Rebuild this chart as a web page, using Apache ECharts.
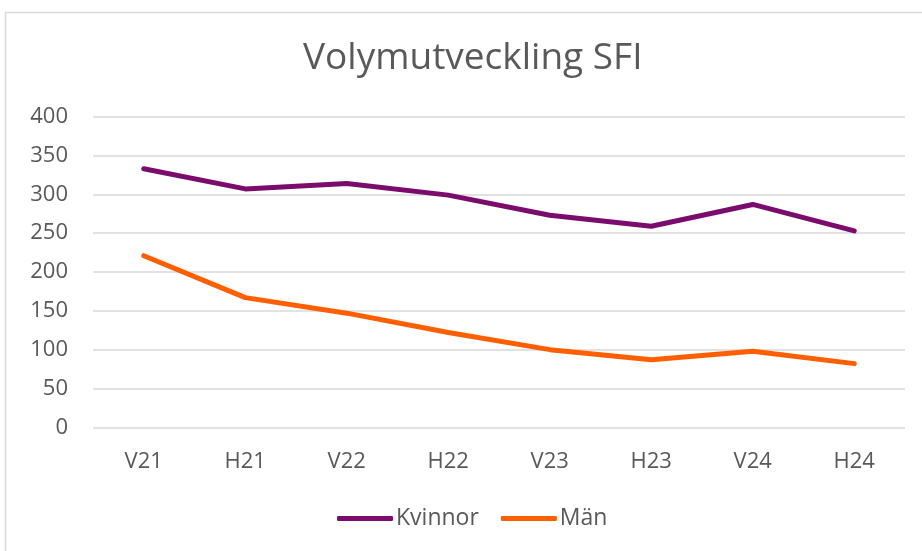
<!DOCTYPE html>
<html>
<head>
<meta charset="utf-8">
<script src="https://cdn.jsdelivr.net/npm/echarts@6/dist/echarts.min.js"></script>
<style>
  html, body { margin: 0; padding: 0; background: #fff; }
  #main { width: 922px; height: 551px; }
</style>
</head>
<body>
<div id="main"></div>
<script>
var categories = ['V21', 'H21', 'V22', 'H22', 'V23', 'H23', 'V24', 'H24'];
var kvinnor = [333, 307, 314, 299, 273, 259, 287, 253];
var man = [221, 167, 147, 122, 100, 87, 98, 82];
var yTicks = [0, 50, 100, 150, 200, 250, 300, 350, 400];

var font = '"Open Sans", sans-serif';
var option = {
    backgroundColor: '#fff',
    animation: false,
    title: {
        text: 'Volymutveckling SFI',
        left: 298,
        top: 35,
        textStyle: { fontFamily: font, fontSize: 37, fontWeight: 'normal', color: '#595959' }
    },
    graphic: [{
        type: 'rect',
        shape: { x: 5.5, y: 12.5, width: 940, height: 560 },
        style: { fill: 'none', stroke: '#d9d9d9', lineWidth: 1.5 },
        silent: true
    }],
    legend: {
        bottom: 16,
        left: 332,
        itemWidth: 56,
        itemHeight: 5,
        itemGap: 22,
        icon: 'roundRect',
        textStyle: { fontFamily: font, fontSize: 23, color: '#595959', padding: [0, 0, 0, -2] },
        data: ['Kvinnor', 'Män']
    },
    grid: { left: 93, right: 17, top: 116.7, bottom: 123.7, containLabel: false },
    xAxis: {
        type: 'category',
        data: categories,
        axisLine: { show: false },
        axisTick: { show: false },
        axisLabel: { fontFamily: font, fontSize: 22, color: '#595959', margin: 23 }
    },
    yAxis: {
        type: 'value',
        min: yTicks[0],
        max: yTicks[yTicks.length - 1],
        interval: 50,
        axisLine: { show: false },
        axisTick: { show: false },
        axisLabel: { fontFamily: font, fontSize: 22, color: '#595959', margin: 25 },
        splitLine: { lineStyle: { color: '#d9d9d9', width: 1.5 } }
    },
    series: [
        {
            name: 'Kvinnor',
            type: 'line',
            data: kvinnor,
            symbol: 'none',
            color: '#7b0c6d',
            lineStyle: { width: 5, cap: 'round', join: 'round' }
        },
        {
            name: 'Män',
            type: 'line',
            data: man,
            symbol: 'none',
            color: '#ff5f00',
            lineStyle: { width: 5, cap: 'round', join: 'round' }
        }
    ]
};
var myChart = echarts.init(document.getElementById('main'));
myChart.setOption(option);
</script>
</body>
</html>
